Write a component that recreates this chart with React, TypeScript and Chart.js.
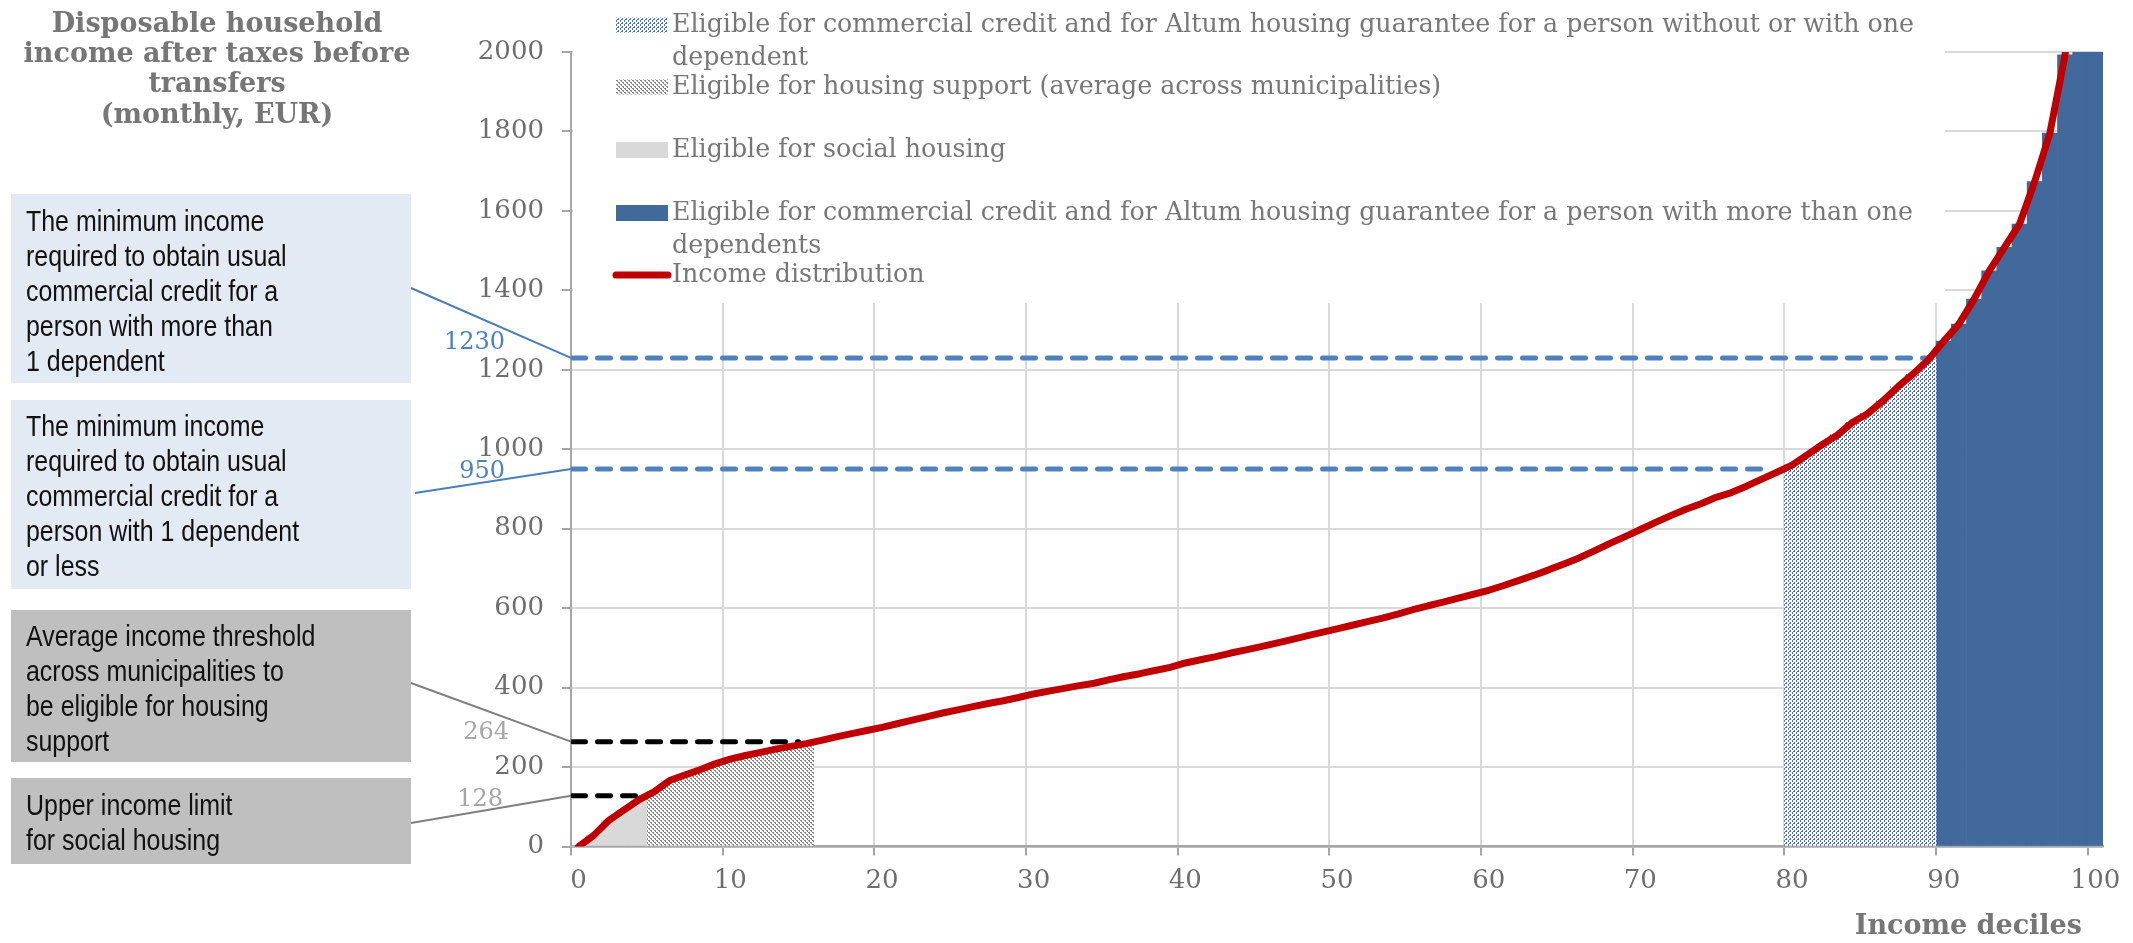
import React, { useEffect, useRef } from "react";
import { Chart, registerables } from "chart.js";

Chart.register(...registerables);

// ---------- data ----------
const percentiles: number[] = Array.from({ length: 101 }, (_, i) => i);

const incomeDistribution: number[] = [
  0, 28, 66, 92, 118, 138, 166, 180, 193, 208,
  220, 229, 237, 245, 252, 259, 267, 276, 284, 292,
  300, 309, 318, 327, 336, 344, 352, 360, 367, 375,
  384, 391, 398, 405, 411, 420, 428, 435, 443, 451,
  462, 470, 478, 487, 495, 503, 512, 521, 530, 539,
  548, 557, 566, 575, 585, 596, 606, 615, 625, 635,
  645, 657, 670, 683, 697, 712, 727, 745, 763, 780,
  798, 816, 833, 849, 863, 879, 891, 907, 925, 942,
  960, 986, 1012, 1036, 1068, 1090, 1122, 1158, 1190, 1226,
  1272, 1315, 1378, 1449, 1508, 1567, 1674, 1796, 1993, 2450,
  3400,
];

const socialHousingRange = [0, 4];
const housingSupportRange = [5, 15];
const creditOneDependentRange = [80, 89];
const creditMoreDependentsRange = [90, 100];

const thresholdValues = [1230, 950, 264, 128];
const thresholdLabels = ["1230", "950", "264", "128"];
const thresholdStart = -0.4;
const thresholdEnds = [89.1, 78.4, 14.5, 4.1];

const xTickLabels = ["0", "10", "20", "30", "40", "50", "60", "70", "80", "90", "100"];
const yMin = 0;
const yMax = 2000;
const yStep = 200;

const yTitleLines = ["Disposable household", "income after taxes before", "transfers", "(monthly, EUR)"];
const xTitle = "Income deciles";

const legendLabels: string[][] = [
  ["Eligible for commercial credit and for Altum housing guarantee for a person without or with one", "dependent"],
  ["Eligible for housing support (average across municipalities)"],
  ["Eligible for social housing"],
  ["Eligible for commercial credit and for Altum housing guarantee for a person with more than one", "dependents"],
  ["Income distribution"],
];

const annotationTexts: string[][] = [
  ["The minimum income", "required to obtain usual", "commercial credit for a", "person with more than", "1 dependent"],
  ["The minimum income", "required to obtain usual", "commercial credit for a", "person with 1 dependent", "or less"],
  ["Average income threshold", "across municipalities to", "be eligible for housing", "support"],
  ["Upper income limit", "for social housing"],
];

// ---------- styles / layout ----------
const W = 2133;
const H = 943;
const SERIF = '"DejaVu Serif", serif';
const SANS = '"Liberation Sans", Arial, sans-serif';
const RED = "#c00000";
const BLUE_DASH = "#4f81bd";
const DARK_BLUE = "#41699b";
const LIGHT_GRAY = "#d9d9d9";
const AXIS_GRAY = "#a6a6a6";
const TEXT_GRAY = "#6e6e6e";

const boxLayout = [
  { top: 194, bottom: 383, fill: "#e3eaf4", first: 223, line: "#4a7ebb", from: [411, 288], label: [505, 343], labelColor: "#4f81bd" },
  { top: 400, bottom: 589, fill: "#e3eaf4", first: 428, line: "#4a7ebb", from: [415, 493], label: [505, 472], labelColor: "#4f81bd" },
  { top: 610, bottom: 762, fill: "#bfbfbf", first: 638, line: "#7f7f7f", from: [411, 683], label: [509, 733], labelColor: "#a6a6a6" },
  { top: 778, bottom: 864, fill: "#bfbfbf", first: 807, line: "#7f7f7f", from: [411, 823], label: [503, 800], labelColor: "#a6a6a6" },
];

const legendRows = [25, 87, 150, 213, 275];

function makePattern(kind: "gray" | "blue"): CanvasPattern | string {
  const c = document.createElement("canvas");
  const size = 8;
  c.width = size;
  c.height = size;
  const g = c.getContext("2d");
  if (!g) return kind === "gray" ? "#999" : "#4472c4";
  g.fillStyle = "#ffffff";
  g.fillRect(0, 0, size, size);
  g.fillStyle = kind === "gray" ? "#858585" : "#4472c4";
  for (let y = 0; y < size; y++) {
    for (let x = 0; x < size; x++) {
      if (kind === "gray") {
        const d = (x - y + 16) % 4;
        if (d === 0 || (d === 1 && y % 2 === 0)) g.fillRect(x, y, 1, 1);
      } else {
        const d = (x + y) % 4;
        if ((d === 0 && x % 4 !== 3) || (d === 1 && x % 2 === 0)) g.fillRect(x, y, 1, 1);
      }
    }
  }
  return g.createPattern(c, "repeat") || "#4472c4";
}

export default function App() {
  const ref = useRef<HTMLCanvasElement>(null);

  useEffect(() => {
    document.body.style.margin = "0";
    document.body.style.overflow = "hidden";
    const canvas = ref.current;
    if (!canvas) return;

    const grayHatch = makePattern("gray");
    const blueHatch = makePattern("blue");

    const inRange = (r: number[]) =>
      incomeDistribution.map((v, i) => (i >= r[0] && i <= r[1] ? v : null));

    const barCommon: any = {
      type: "bar",
      barPercentage: 1,
      categoryPercentage: 1,
      grouped: false,
      borderWidth: 0,
      order: 3,
      xAxisID: "x",
      yAxisID: "y",
    };
    const thresholdColors = [BLUE_DASH, BLUE_DASH, "#000000", "#000000"];

    const datasets: any[] = [
      { ...barCommon, label: legendLabels[2].join(" "), data: inRange(socialHousingRange), backgroundColor: LIGHT_GRAY },
      { ...barCommon, label: legendLabels[1].join(" "), data: inRange(housingSupportRange), backgroundColor: grayHatch },
      { ...barCommon, label: legendLabels[0].join(" "), data: inRange(creditOneDependentRange), backgroundColor: blueHatch },
      { ...barCommon, label: legendLabels[3].join(" "), data: inRange(creditMoreDependentsRange), backgroundColor: DARK_BLUE },
      ...thresholdValues.map((v, i) => ({
        type: "line",
        label: thresholdLabels[i],
        xAxisID: "xl",
        yAxisID: "y",
        data: [
          { x: thresholdStart, y: v },
          { x: thresholdEnds[i], y: v },
        ],
        borderColor: thresholdColors[i],
        borderWidth: 5,
        borderDash: [13, 12],
        borderCapStyle: "round",
        pointRadius: 0,
        fill: false,
        order: 2,
      })),
      {
        type: "line",
        label: legendLabels[4].join(" "),
        xAxisID: "x",
        yAxisID: "y",
        data: incomeDistribution,
        borderColor: RED,
        borderWidth: 7,
        borderJoinStyle: "round",
        borderCapStyle: "round",
        pointRadius: 0,
        fill: false,
        tension: 0,
        order: 1,
      },
    ];

    const overlay = {
      id: "overlay",
      beforeDatasetsDraw(chart: any) {
        const ctx = chart.ctx as CanvasRenderingContext2D;
        const area = chart.chartArea;
        ctx.save();
        ctx.fillStyle = "#ffffff";
        ctx.fillRect(area.left + 2, 0, 1945 - (area.left + 2), 303);
        ctx.restore();
      },
      afterDraw(chart: any) {
        const ctx = chart.ctx as CanvasRenderingContext2D;
        const area = chart.chartArea;
        const yScale = chart.scales.y;
        ctx.save();

        // y-axis title block
        ctx.fillStyle = "#767676";
        ctx.font = `bold 27px ${SERIF}`;
        ctx.textAlign = "center";
        ctx.textBaseline = "middle";
        const titleY = [25, 55, 85, 116];
        yTitleLines.forEach((t, i) => ctx.fillText(t, 217, titleY[i]));

        // x-axis title
        ctx.textAlign = "right";
        ctx.fillText(xTitle, 2082, 927);

        // annotation boxes
        boxLayout.forEach((b, i) => {
          ctx.fillStyle = b.fill;
          ctx.fillRect(11, b.top, 400, b.bottom - b.top);
          ctx.fillStyle = "#111111";
          ctx.font = `29px ${SANS}`;
          ctx.textAlign = "left";
          ctx.textBaseline = "middle";
          annotationTexts[i].forEach((line, j) => {
            ctx.save();
            ctx.translate(26, b.first + j * 35);
            ctx.scale(0.86, 1);
            ctx.fillText(line, 0, 0);
            ctx.restore();
          });
          // connector
          ctx.strokeStyle = b.line;
          ctx.lineWidth = 2;
          ctx.beginPath();
          ctx.moveTo(b.from[0], b.from[1]);
          ctx.lineTo(area.left, yScale.getPixelForValue(thresholdValues[i]));
          ctx.stroke();
        });
        // threshold value labels
        ctx.font = `24px ${SERIF}`;
        ctx.textAlign = "right";
        ctx.textBaseline = "middle";
        boxLayout.forEach((b, i) => {
          ctx.fillStyle = b.labelColor;
          ctx.fillText(thresholdLabels[i], b.label[0], b.label[1]);
        });

        // legend
        const sx = 616;
        const sw = 52;
        const tx = 672;
        const swatches: any[] = [blueHatch, grayHatch, LIGHT_GRAY, DARK_BLUE];
        const swatchH = [15, 15, 16, 16];
        legendRows.forEach((ry, i) => {
          if (i < 4) {
            ctx.fillStyle = swatches[i];
            ctx.fillRect(sx, ry - swatchH[i] / 2, sw, swatchH[i]);
          } else {
            ctx.strokeStyle = RED;
            ctx.lineWidth = 7;
            ctx.lineCap = "round";
            ctx.beginPath();
            ctx.moveTo(sx, ry);
            ctx.lineTo(sx + sw, ry);
            ctx.stroke();
          }
          ctx.fillStyle = "#777777";
          ctx.font = `25.3px ${SERIF}`;
          ctx.textAlign = "left";
          ctx.textBaseline = "middle";
          legendLabels[i].forEach((line, j) => ctx.fillText(line, tx, ry + j * 33));
        });
        ctx.restore();
      },
    };

    const chart = new Chart(canvas, {
      type: "bar",
      data: { labels: percentiles.map(String), datasets },
      options: {
        responsive: false,
        animation: false,
        devicePixelRatio: 1,
        events: [],
        layout: { padding: { top: 52, right: 30, bottom: 0, left: 0 } },
        plugins: { legend: { display: false }, tooltip: { enabled: false }, title: { display: false } },
        scales: {
          x: {
            type: "category",
            offset: true,
            grid: {
              offset: true,
              lineWidth: 2,
              tickLength: 9,
              color: (c: any) =>
                c.index !== undefined && c.index > 0 && c.index % 10 === 0 ? LIGHT_GRAY : "rgba(0,0,0,0)",
              tickColor: (c: any) =>
                c.index !== undefined && c.index % 10 === 0 ? AXIS_GRAY : "rgba(0,0,0,0)",
            },
            border: { color: AXIS_GRAY, width: 2.5 },
            ticks: {
              autoSkip: false,
              maxRotation: 0,
              minRotation: 0,
              padding: 10,
              color: TEXT_GRAY,
              font: { family: SERIF, size: 26 },
              callback: (_v: any, i: number) => (i % 10 === 0 ? xTickLabels[i / 10] : ""),
            },
            afterFit: (s: any) => {
              s.height = H - 846.5;
            },
          },
          xl: { type: "linear", display: false, offset: false, bounds: "data", min: -0.5, max: 100.5, grid: { offset: false } },
          y: {
            min: yMin,
            max: yMax,
            ticks: {
              stepSize: yStep,
              padding: 18,
              color: TEXT_GRAY,
              font: { family: SERIF, size: 26 },
              callback: (v: any) => String(v),
            },
            grid: { color: LIGHT_GRAY, lineWidth: 2, tickLength: 9, tickColor: AXIS_GRAY },
            border: { color: AXIS_GRAY, width: 2 },
            afterFit: (s: any) => {
              s.width = 571;
            },
          },
        },
      } as any,
      plugins: [overlay],
    });

    return () => chart.destroy();
  }, []);

  return (
    <div style={{ width: W, height: H, position: "relative", background: "#fff" }}>
      <canvas ref={ref} width={W} height={H} style={{ display: "block" }} />
    </div>
  );
}
